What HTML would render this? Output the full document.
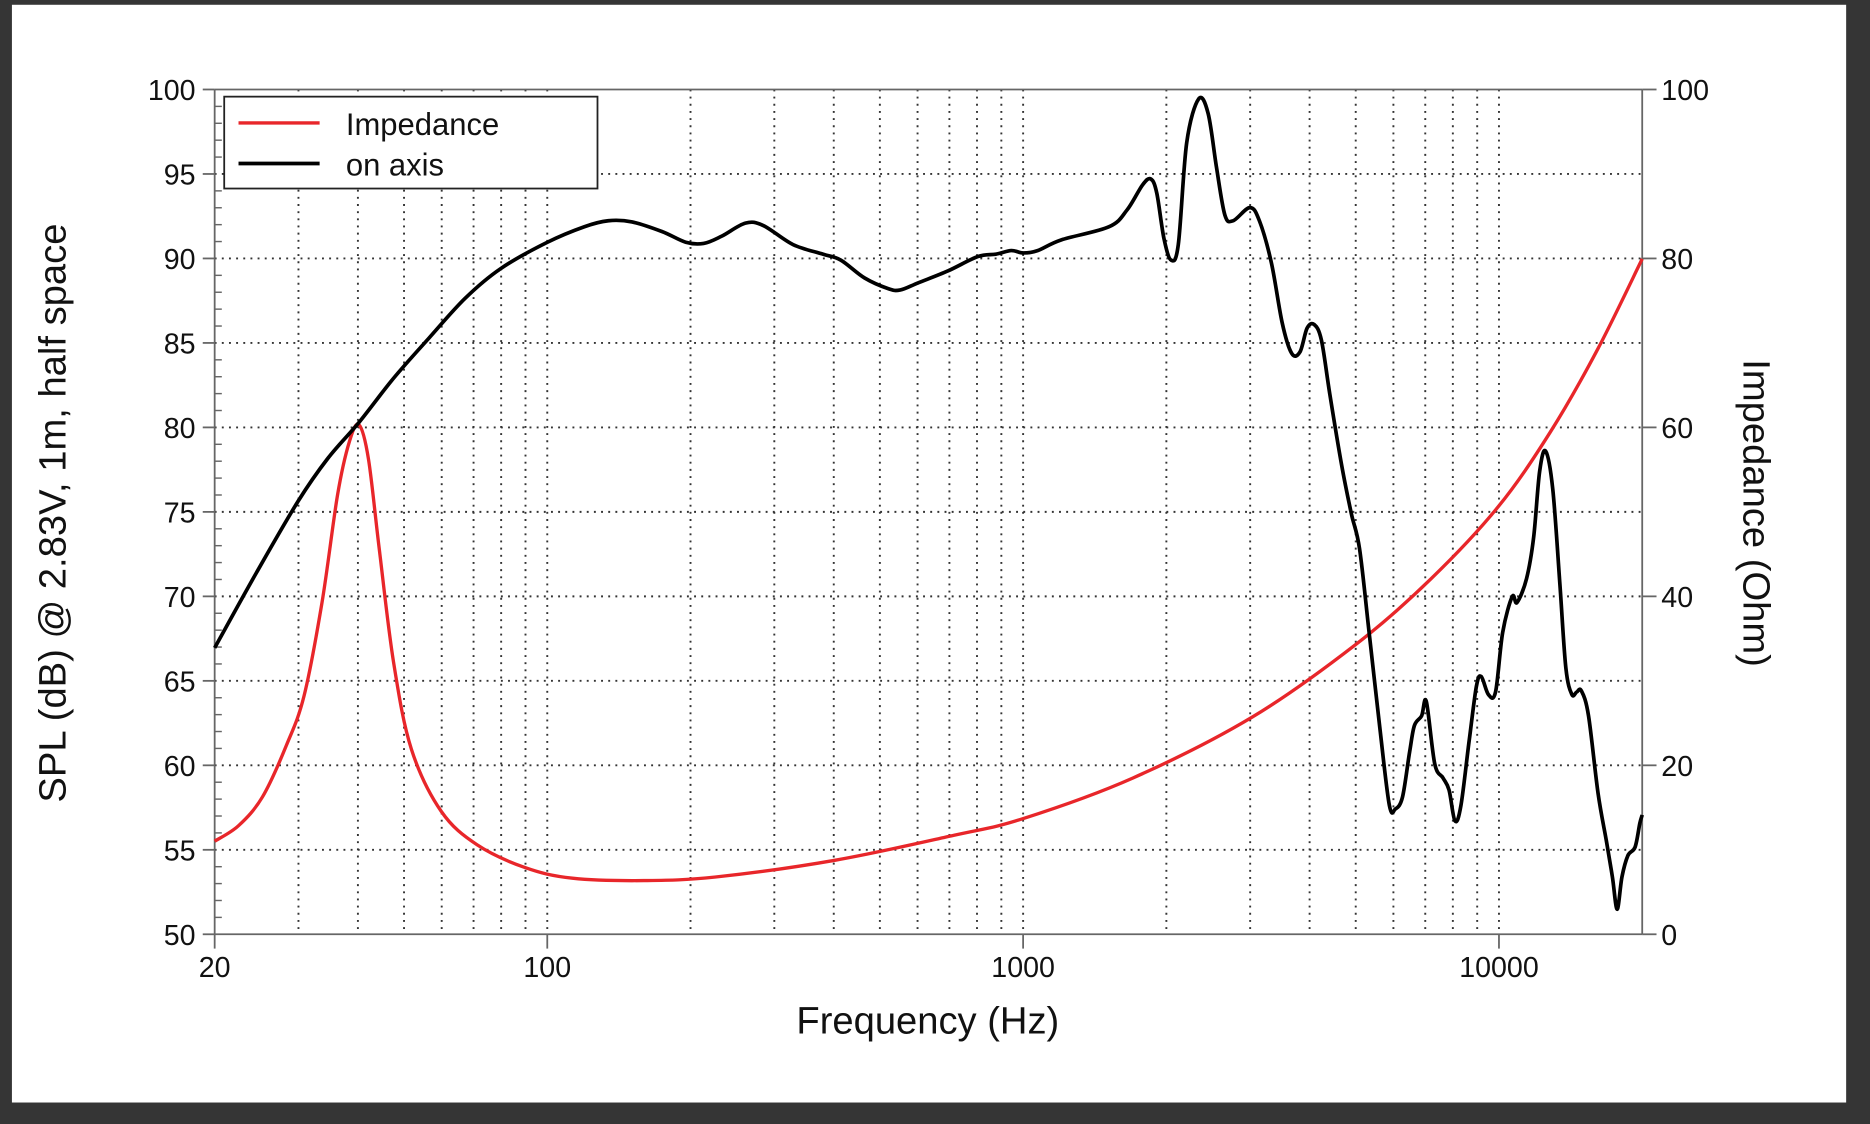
<!DOCTYPE html>
<html><head><meta charset="utf-8"><style>
html,body{margin:0;padding:0;background:#353535;}
svg{display:block;}
text{font-family:"Liberation Sans",Arial,sans-serif;fill:#111;}
</style></head><body>
<svg id="s" width="1870" height="1124" viewBox="0 0 1568 942" preserveAspectRatio="none" xmlns="http://www.w3.org/2000/svg">
<rect x="0" y="0" width="1568" height="942" fill="#353535"/>
<rect x="10" y="4" width="1538" height="920" fill="#fff"/>
<g id="grid"></g>
<g id="axes"></g>
<path id="red" fill="none" stroke="#e8262a" stroke-width="2.8"/>
<path id="blk" fill="none" stroke="#000" stroke-width="3.1" stroke-linejoin="round"/>
<rect x="188" y="81" width="313" height="77" fill="#fff" stroke="#222" stroke-width="1.5"/>
<line x1="200" y1="103" x2="268" y2="103" stroke="#e8262a" stroke-width="2.8"/>
<line x1="200" y1="137" x2="268" y2="137" stroke="#000" stroke-width="3.1"/>
<text x="290" y="113" font-size="26">Impedance</text>
<text x="290" y="147" font-size="26">on axis</text>
<text x="778" y="866" font-size="32" text-anchor="middle">Frequency (Hz)</text>
<text transform="translate(55,430) rotate(-90)" font-size="32" text-anchor="middle">SPL (dB) @ 2.83V, 1m, half space</text>
<text transform="translate(1462,430) rotate(90)" font-size="32" text-anchor="middle">Impedance (Ohm)</text>
</svg>
<script>
var NS="http://www.w3.org/2000/svg";
var L=180,R=1377,T=75,B=783;
function X(f){return L+399*(Math.log10(f)-Math.log10(20));}
function Y(db){return B-(db-50)*(B-T)/50;}
var g=document.getElementById('grid'),a=document.getElementById('axes');
function ln(p,x1,y1,x2,y2,st,w,da){var l=document.createElementNS(NS,'line');l.setAttribute('x1',x1);l.setAttribute('y1',y1);l.setAttribute('x2',x2);l.setAttribute('y2',y2);l.setAttribute('stroke',st);l.setAttribute('stroke-width',w);if(da)l.setAttribute('stroke-dasharray',da);p.appendChild(l);}
function tx(p,x,y,s,anc){var t=document.createElementNS(NS,'text');t.setAttribute('x',x);t.setAttribute('y',y);t.setAttribute('font-size','24');t.setAttribute('text-anchor',anc);t.textContent=s;p.appendChild(t);}
var fs=[];for(var d=10;d<=10000;d*=10)for(var k=1;k<=9;k++){var f=d*k;if(f>20&&f<20000)fs.push(f);}
fs.forEach(function(f){ln(g,X(f),T,X(f),B,'#333',1.6,'1.6 4.4');});
for(var v=55;v<100;v+=5)ln(g,L,Y(v),R,Y(v),'#333',1.6,'1.6 4.4');
ln(a,L,T,R,T,'#666',1.5);ln(a,L,B,R,B,'#666',1.5);ln(a,L,T,L,B,'#666',1.5);ln(a,R,T,R,B,'#666',1.5);
for(var v=50;v<=100;v++){var y=Y(v);if(v%5==0){ln(a,L-10,y,L,y,'#666',1.5);tx(a,164,y+9,String(v),'end');}else ln(a,L,y,L+6,y,'#666',1.2);}
for(var z=0;z<=100;z+=20){var y=Y(50+z/2);ln(a,R,y,R+12,y,'#666',1.5);tx(a,1393,y+9,String(z),'start');}
[[20,'20'],[100,'100'],[1000,'1000'],[10000,'10000']].forEach(function(p){ln(a,X(p[0]),B,X(p[0]),B+12,'#666',1.5);tx(a,X(p[0]),B+36,p[1],'middle');});
function cr(pts){var s='M'+pts[0][0]+','+pts[0][1];for(var i=0;i<pts.length-1;i++){var p0=pts[Math.max(0,i-1)],p1=pts[i],p2=pts[i+1],p3=pts[Math.min(pts.length-1,i+2)];s+=' C'+(p1[0]+(p2[0]-p0[0])/6).toFixed(1)+','+(p1[1]+(p2[1]-p0[1])/6).toFixed(1)+' '+(p2[0]-(p3[0]-p1[0])/6).toFixed(1)+','+(p2[1]-(p3[1]-p1[1])/6).toFixed(1)+' '+p2[0]+','+p2[1];}return s;}
var blk=[[180,543],[215,480],[250,420],[275,384],[301,354],[330,317],[360,283],[390,250],[420,225],[459,203],[490,190],[510,185],[530,186],[555,194],[575,203],[590,204],[605,198],[625,187],[640,189],[665,205],[690,213],[705,218],[725,233],[745,242],[755,243],[770,237],[795,227],[820,215],[835,213],[848,210],[858,212],[870,210],[890,201],[930,190],[945,176],[958,155],[965,150],[970,162],[976,200],[982,218],[988,205],[995,120],[1005,83],[1013,95],[1020,140],[1027,180],[1034,185],[1048,174],[1056,185],[1066,220],[1075,270],[1083,296],[1090,295],[1096,275],[1102,272],[1108,285],[1115,330],[1125,390],[1133,430],[1140,460],[1148,530],[1157,610],[1165,675],[1170,678],[1176,668],[1182,630],[1186,608],[1192,600],[1196,588],[1203,640],[1210,652],[1215,662],[1220,688],[1225,675],[1232,620],[1238,575],[1242,567],[1248,582],[1254,580],[1260,530],[1268,500],[1272,505],[1280,485],[1286,450],[1291,395],[1296,378],[1302,410],[1308,490],[1313,560],[1318,582],[1322,580],[1326,579],[1332,600],[1340,665],[1347,705],[1352,735],[1356,762],[1360,735],[1365,717],[1371,710],[1375,690],[1377,683]];
var red=[[180,705],[200,692],[220,668],[240,625],[255,583],[270,505],[283,415],[293,370],[301,356],[309,385],[318,460],[330,555],[345,628],[370,680],[400,708],[440,727],[480,736],[540,738],[600,735],[700,721],[800,700],[858,686],[950,652],[1050,601],[1137,540],[1200,485],[1256,425],[1300,362],[1340,292],[1377,217]];
document.getElementById('blk').setAttribute('d',cr(blk));
document.getElementById('red').setAttribute('d',cr(red));
</script>
</body></html>
